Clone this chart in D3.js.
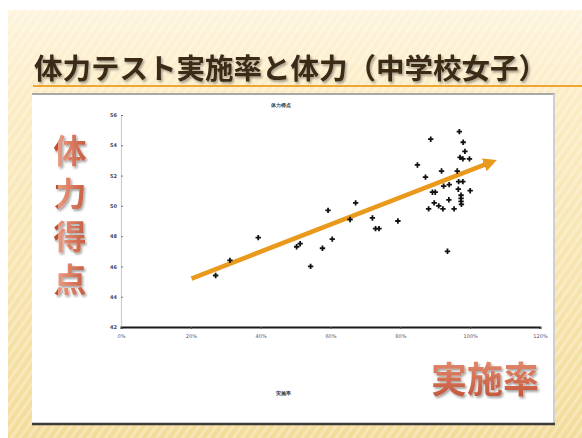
<!DOCTYPE html>
<html>
<head>
<meta charset="utf-8">
<script src="https://cdn.jsdelivr.net/npm/d3@7/dist/d3.min.js"></script>
<style>
  html, body { margin: 0; padding: 0; background: #fff; }
  svg { display: block; }
</style>
</head>
<body>
<svg id="slide" width="582" height="438"></svg>
<script>
// Implementation rate of the fitness test (%) and fitness score, junior high girls, by prefecture
const rate = [27.1, 31.2, 39.3, 51.3, 50.3, 54.3, 57.7, 60.5, 59.3, 67.2, 65.6, 72.0, 72.9, 73.9, 79.3,
              88.7, 96.9, 98.0, 98.5, 97.1, 97.9, 99.8, 84.9, 91.8, 96.3, 87.2, 92.4, 94.0, 96.7, 97.9,
              96.6, 100.0, 89.2, 90.0, 97.4, 97.4, 93.9, 97.4, 89.7, 91.0, 88.1, 92.2, 95.4, 97.5, 93.5];
const score = [45.4, 46.4, 47.9, 47.5, 47.3, 46.0, 47.2, 47.8, 49.7, 50.2, 49.1, 49.2, 48.5, 48.5, 49.0,
               54.4, 54.9, 54.2, 53.6, 53.2, 53.1, 53.1, 52.7, 52.3, 52.3, 51.9, 51.3, 51.4, 51.6, 51.6,
               51.1, 51.0, 50.9, 50.9, 50.7, 50.5, 50.4, 50.3, 50.2, 50.0, 49.8, 49.8, 49.8, 50.1, 47.0];
// Trend line end points (rate, score)
const trendRate = [20.2, 106.2];
const trendScore = [45.2, 52.9];
// Axis ticks
const xTicks = [0, 20, 40, 60, 80, 100, 120];
const xTickLabels = ["0%", "20%", "40%", "60%", "80%", "100%", "120%"];
const yTicks = [42, 44, 46, 48, 50, 52, 54, 56];
const yTickLabels = ["42", "44", "46", "48", "50", "52", "54", "56"];

const svg = d3.select("#slide");
const defs = svg.append("defs");

// Slide background: warm beige with faint diagonal stripes and lighter top band
const bgGrad = defs.append("linearGradient").attr("id", "bgGrad")
  .attr("x1", 0).attr("y1", 0).attr("x2", 0).attr("y2", 1);
bgGrad.append("stop").attr("offset", "0").attr("stop-color", "#fdf4dc");
bgGrad.append("stop").attr("offset", "0.2").attr("stop-color", "#fbecc4");
bgGrad.append("stop").attr("offset", "1").attr("stop-color", "#f3dc9a");

const stripes = defs.append("pattern").attr("id", "stripes")
  .attr("patternUnits", "userSpaceOnUse").attr("width", 7).attr("height", 7)
  .attr("patternTransform", "rotate(35)");
stripes.append("rect").attr("width", 3).attr("height", 7).attr("fill", "#ffffff").attr("opacity", 0.28);

svg.append("rect").attr("x", 8).attr("y", 10).attr("width", 574).attr("height", 428).attr("fill", "url(#bgGrad)");
svg.append("rect").attr("x", 8).attr("y", 10).attr("width", 574).attr("height", 428).attr("fill", "url(#stripes)");

// Title
const shadow = defs.append("filter").attr("id", "txtShadow")
  .attr("x", "-10%").attr("y", "-20%").attr("width", "130%").attr("height", "150%");
shadow.append("feDropShadow").attr("dx", 1.5).attr("dy", 2).attr("stdDeviation", 1.2)
  .attr("flood-color", "#000").attr("flood-opacity", 0.35);

svg.append("line").attr("x1", 33).attr("x2", 582).attr("y1", 86).attr("y2", 86)
  .attr("stroke", "#f0a633").attr("stroke-width", 2);

svg.append("text")
  .attr("x", 34).attr("y", 79)
  .attr("font-family", "'Noto Sans CJK JP', sans-serif")
  .attr("font-weight", 700).attr("font-size", 28.5)
  .attr("fill", "#3a2918")
  .attr("filter", "url(#txtShadow)")
  .text("体力テスト実施率と体力（中学校女子）");

// White content panel
svg.append("rect").attr("x", 32).attr("y", 93).attr("width", 523).attr("height", 332).attr("fill", "#fff");
svg.append("line").attr("x1", 32).attr("x2", 555).attr("y1", 94).attr("y2", 94).attr("stroke", "#a8a8a8").attr("stroke-width", 2);
svg.append("line").attr("x1", 554).attr("x2", 554).attr("y1", 94).attr("y2", 425).attr("stroke", "#cfcfcf").attr("stroke-width", 2);
svg.append("line").attr("x1", 32).attr("x2", 555).attr("y1", 424).attr("y2", 424).attr("stroke", "#3a3a3a").attr("stroke-width", 2.5);

// Scatter plot
const x = d3.scaleLinear().domain([0, 120]).range([121, 540]);
const y = d3.scaleLinear().domain([42, 56]).range([327, 115]);
const tinyFont = "'DejaVu Sans', sans-serif";

const gy = svg.append("g").attr("transform", "translate(121,0)")
  .call(d3.axisLeft(y).tickValues(yTicks).tickSize(-2).tickPadding(4)
    .tickFormat((d, i) => yTickLabels[i]));
gy.select(".domain").attr("stroke", "#cfcfcf").attr("stroke-width", 1.2);
gy.selectAll(".tick line").attr("stroke", "#777");
gy.selectAll(".tick text").attr("font-family", tinyFont).attr("font-size", 5).attr("font-weight", 700).attr("fill", "#445");

const gx = svg.append("g").attr("transform", "translate(0,327)")
  .call(d3.axisBottom(x).tickValues(xTicks).tickSize(2).tickPadding(5)
    .tickFormat((d, i) => xTickLabels[i]));
gx.select(".domain").attr("stroke", "#1a1a1a").attr("stroke-width", 2);
gx.selectAll(".tick line").attr("stroke", "#555");
gx.selectAll(".tick text").attr("font-family", tinyFont).attr("font-size", 5).attr("fill", "#557");

svg.append("text").attr("x", 281).attr("y", 107).attr("text-anchor", "middle")
  .attr("font-family", tinyFont).attr("font-size", 5).attr("font-weight", 700).attr("fill", "#333")
  .text("体力得点");
svg.append("text").attr("x", 283).attr("y", 395).attr("text-anchor", "middle")
  .attr("font-family", tinyFont).attr("font-size", 5).attr("font-weight", 700).attr("fill", "#333")
  .text("実施率");

// Trend line with arrow head
defs.append("marker").attr("id", "arrow")
  .attr("viewBox", "0 0 10 10").attr("refX", 6).attr("refY", 5)
  .attr("markerWidth", 3).attr("markerHeight", 3).attr("orient", "auto")
  .append("path").attr("d", "M0,0 L10,5 L0,10 z").attr("fill", "#e99a1c");

svg.append("line")
  .attr("x1", x(trendRate[0])).attr("y1", y(trendScore[0]))
  .attr("x2", x(trendRate[1])).attr("y2", y(trendScore[1]))
  .attr("stroke", "#e99a1c").attr("stroke-width", 4.5)
  .attr("marker-end", "url(#arrow)");

const pts = rate.map((r, i) => ({ r, s: score[i] }));
svg.append("g").selectAll("path").data(pts).join("path")
  .attr("transform", d => `translate(${x(d.r)},${y(d.s)})`)
  .attr("d", d3.symbol(d3.symbolCross, 16))
  .attr("fill", "#111");

// Big axis captions: each glyph shaded light at the top to darker at the bottom
const capGrad = defs.append("linearGradient").attr("id", "capGrad")
  .attr("x1", 0).attr("y1", 0).attr("x2", 0).attr("y2", 1);
capGrad.append("stop").attr("offset", "0").attr("stop-color", "#e9977c");
capGrad.append("stop").attr("offset", "1").attr("stop-color", "#bf4f33");

// Repeating gradient, one period per character of the vertical caption
const capGradV = defs.append("linearGradient").attr("id", "capGradV")
  .attr("gradientUnits", "userSpaceOnUse")
  .attr("x1", 0).attr("y1", 136).attr("x2", 0).attr("y2", 179)
  .attr("spreadMethod", "repeat");
capGradV.append("stop").attr("offset", "0").attr("stop-color", "#ea9a80");
capGradV.append("stop").attr("offset", "0.78").attr("stop-color", "#bf4f33");
capGradV.append("stop").attr("offset", "1").attr("stop-color", "#bf4f33");

const capFont = "'Noto Sans CJK JP', sans-serif";
// Vertical caption set top-to-bottom as a single text run
svg.append("text")
  .attr("x", 70).attr("y", 134)
  .attr("writing-mode", "vertical-rl")
  .style("writing-mode", "vertical-rl")
  .attr("font-family", capFont).attr("font-weight", 700).attr("font-size", 33)
  .attr("letter-spacing", 10)
  .attr("fill", "url(#capGradV)").attr("filter", "url(#txtShadow)")
  .text("体力得点");

svg.append("text").attr("x", 485).attr("y", 393).attr("text-anchor", "middle")
  .attr("font-family", capFont).attr("font-weight", 700).attr("font-size", 36)
  .attr("fill", "url(#capGrad)").attr("filter", "url(#txtShadow)")
  .text("実施率");
</script>
</body>
</html>
